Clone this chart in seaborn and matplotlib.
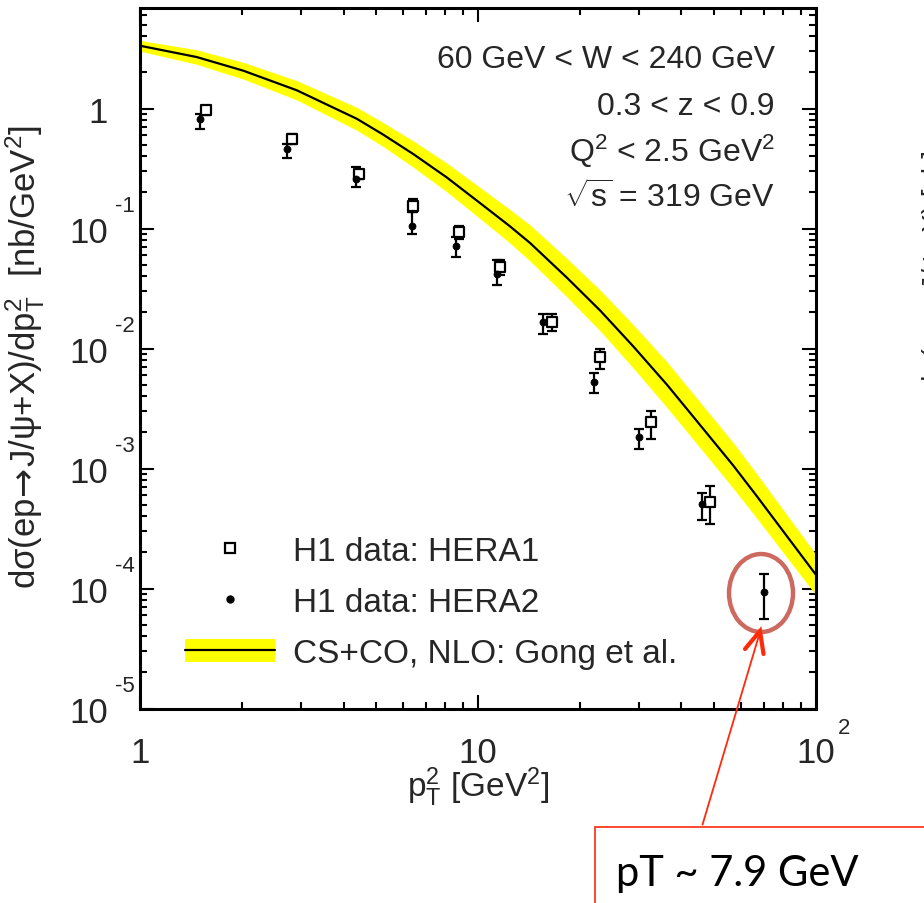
import matplotlib
matplotlib.use("Agg")
import matplotlib.pyplot as plt
import seaborn as sns
from matplotlib.patches import Ellipse, Rectangle, FancyArrowPatch, Patch
from matplotlib.lines import Line2D
from matplotlib.legend_handler import HandlerTuple
from matplotlib.ticker import FixedLocator, LogLocator, NullFormatter, FixedFormatter

# ---- NLO CS+CO prediction (central curve and uncertainty band) ----
theory_pt2 = [1.0, 1.47, 2.02, 2.91, 4.38, 5.25, 6.44, 8.08, 10.2, 12.4, 14.25,
              18.3, 23.0, 28.8, 36.2, 43.4, 56.9, 66.8, 100.0]
theory_xsec = [3.34, 2.69, 2.07, 1.42, 0.822, 0.605, 0.417, 0.267, 0.161, 0.105,
               0.0759, 0.0391, 0.0207, 0.01042, 0.00501, 0.00269, 0.00106, 5.89e-4, 1.3e-4]
theory_lo = [3.01, 2.34, 1.76, 1.18, 0.660, 0.481, 0.324, 0.2026, 0.1194, 0.0761,
             0.0537, 0.02706, 0.0140, 0.00688, 0.003234, 0.001737, 0.000684, 3.85e-4, 8.79e-5]
theory_hi = [3.70, 3.09, 2.43, 1.71, 1.023, 0.762, 0.537, 0.352, 0.2172, 0.1449,
             0.1072, 0.0565, 0.0306, 0.01578, 0.00776, 0.004167, 0.001642, 9.02e-4, 1.92e-4]

# ---- H1 data, HERA1 ----
hera1_pt2 = [1.565, 2.81, 4.45, 6.44, 8.81, 11.6, 16.5, 22.96, 32.4, 48.6]
hera1_xsec = [0.97, 0.557, 0.285, 0.155, 0.093, 0.0475, 0.0165, 0.00845, 0.00245, 5.29e-4]
hera1_lo = [0.89, 0.51, 0.26, 0.137, 0.082, 0.041, 0.0140, 0.0068, 0.00176, 3.45e-4]
hera1_hi = [1.06, 0.61, 0.31, 0.176, 0.106, 0.0546, 0.0194, 0.0099, 0.00303, 7.1e-4]

# ---- H1 data, HERA2 ----
hera2_pt2 = [1.505, 2.72, 4.36, 6.37, 8.61, 11.4, 15.6, 22.1, 30.0, 45.9, 70.2]
hera2_xsec = [0.818, 0.46, 0.259, 0.1055, 0.072, 0.0418, 0.0165, 0.00529, 0.00182, 5.06e-4, 9.3e-5]
hera2_lo = [0.675, 0.387, 0.222, 0.090, 0.058, 0.0338, 0.0132, 0.00426, 0.00145, 3.72e-4, 5.57e-5]
hera2_hi = [0.90, 0.506, 0.326, 0.137, 0.085, 0.0546, 0.0194, 0.00625, 0.00213, 6.3e-4, 1.32e-4]

# ---- axis ticks ----
x_major = [1, 10, 100]
x_major_labels = ["1", "10", "10"]
y_major = [1e-5, 1e-4, 1e-3, 1e-2, 1e-1, 1]
y_major_labels = ["10", "10", "10", "10", "10", "1"]
y_exponents = ["-5", "-4", "-3", "-2", "-1", None]

legend_labels = ["H1 data: HERA1", "H1 data: HERA2", "CS+CO, NLO: Gong et al."]
cut_lines = ["60 GeV < W < 240 GeV", "0.3 < z < 0.9",
             r"Q$^{2}$ < 2.5 GeV$^{2}$", r"$\sqrt{\mathregular{s}}$ = 319 GeV"]
callout_text = "pT ~ 7.9 GeV"

sns.set_style("ticks")
plt.rcParams["font.family"] = ["Liberation Sans", "DejaVu Sans"]
plt.rcParams["mathtext.fontset"] = "custom"
plt.rcParams["mathtext.rm"] = "Liberation Sans"
plt.rcParams["mathtext.it"] = "Liberation Sans:italic"
plt.rcParams["mathtext.sf"] = "DejaVu Sans"

FS_TICK = 25
FS_TEXT = 23
YELLOW = "#FFFF00"

fig = plt.figure(figsize=(9.24, 9.04), dpi=100)
ax = fig.add_axes([0.15152, 0.21515, 0.73160, 0.77456])
ax.set_xscale("log")
ax.set_yscale("log")

# theory band and central line
ax.fill_between(theory_pt2, theory_lo, theory_hi, color=YELLOW, lw=0, zorder=1)
sns.lineplot(x=theory_pt2, y=theory_xsec, color="black", lw=1.6, ax=ax,
             estimator=None, sort=False, zorder=2)

# data error bars
ax.errorbar(hera1_pt2, hera1_xsec,
            yerr=[[v - l for v, l in zip(hera1_xsec, hera1_lo)],
                  [h - v for v, h in zip(hera1_xsec, hera1_hi)]],
            fmt="none", ecolor="black", elinewidth=1.6, capsize=3.5, capthick=1.6, zorder=3)
ax.errorbar(hera2_pt2, hera2_xsec,
            yerr=[[v - l for v, l in zip(hera2_xsec, hera2_lo)],
                  [h - v for v, h in zip(hera2_xsec, hera2_hi)]],
            fmt="none", ecolor="black", elinewidth=1.6, capsize=3.5, capthick=1.6, zorder=3)

# data markers
sns.scatterplot(x=hera1_pt2, y=hera1_xsec, marker="s", s=42, color="white",
                edgecolor="black", linewidth=1.6, ax=ax, zorder=4)
sns.scatterplot(x=hera2_pt2, y=hera2_xsec, marker="o", s=26, color="black",
                edgecolor="black", linewidth=0.5, ax=ax, zorder=5)

ax.set_xlim(1, 100)
ax.set_ylim(1e-5, 6.85)

# axes frame and ticks
for sp in ax.spines.values():
    sp.set_linewidth(2.2)
    sp.set_color("black")
ax.xaxis.set_major_locator(FixedLocator(x_major))
ax.xaxis.set_major_formatter(FixedFormatter(x_major_labels))
ax.xaxis.set_minor_locator(LogLocator(base=10, subs=range(2, 10)))
ax.xaxis.set_minor_formatter(NullFormatter())
ax.yaxis.set_major_locator(FixedLocator(y_major))
ax.yaxis.set_major_formatter(FixedFormatter(y_major_labels))
ax.yaxis.set_minor_locator(LogLocator(base=10, subs=range(2, 10), numticks=20))
ax.yaxis.set_minor_formatter(NullFormatter())
ax.tick_params(which="both", direction="in", top=True, right=True,
               width=1.5, color="black", labelsize=FS_TICK)
ax.tick_params(which="major", length=10)
ax.tick_params(which="minor", length=5)
ax.tick_params(axis="x", which="major", pad=20)
ax.tick_params(axis="y", which="major", pad=23)

# exponents of the power-of-ten tick labels
for val, ex in zip(y_major, y_exponents):
    if ex is None:
        continue
    ax.annotate(ex, xy=(0, val), xycoords=("axes fraction", "data"),
                xytext=(-18, 16.5), textcoords="offset points",
                ha="left", va="center", fontsize=16, annotation_clip=False)
ax.annotate("2", xy=(100, 0), xycoords=("data", "axes fraction"),
            xytext=(16, -13.5), textcoords="offset points",
            ha="left", va="center", fontsize=16, annotation_clip=False)

# axis titles
ax.set_xlabel(r"$\mathregular{p_{T}^{2}}$ [GeV$^{2}$]", fontsize=24)
ax.xaxis.set_label_coords(0.5, -0.080)
ax.set_ylabel(r"dσ(ep$\!\mathsf{\rightarrow}\!$J/ψ+X)/d$\mathregular{p_{T}^{2}}$  [nb/GeV$^{2}$]",
              fontsize=25)
ax.yaxis.set_label_coords(-0.138, 0.503)

# kinematic cuts
for txt, yb in zip(cut_lines, [0.916, 0.849, 0.782, 0.716]):
    ax.text(0.939, yb, txt, transform=ax.transAxes, ha="right", va="baseline",
            fontsize=FS_TEXT)

# legend
h1 = Line2D([], [], marker="s", ls="none", mfc="white", mec="black", ms=7, mew=1.6)
h2 = Line2D([], [], marker="o", ls="none", mfc="black", mec="black", ms=5)
h3 = (Patch(facecolor=YELLOW, edgecolor="none"), Line2D([], [], color="black", lw=1.6))
ax.legend([h1, h2, h3], legend_labels, handler_map={tuple: HandlerTuple(ndivide=1, pad=0)},
          loc="upper left", bbox_to_anchor=(0.0666, 0.2464), borderaxespad=0,
          borderpad=0, frameon=False, fontsize=24, handlelength=2.7,
          handleheight=0.69, handletextpad=0.54, labelspacing=0.6)

# call-out marking the highest-pT point
ell = Ellipse((0.8236, 0.3429), 64 / 924, 78 / 904, transform=fig.transFigure,
              fill=False, edgecolor="#CD6A60", lw=3.2, zorder=10)
fig.add_artist(ell)
RED = "#FF2A0A"
shaft = FancyArrowPatch((701.7 / 924, 1 - 828.3 / 904), (760 / 924, 1 - 633 / 904),
                        transform=fig.transFigure, arrowstyle="-",
                        color=RED, lw=1.3, zorder=10)
fig.add_artist(shaft)
head = Line2D([745 / 924, 760 / 924, 763.5 / 924],
              [1 - 650 / 904, 1 - 632 / 904, 1 - 655 / 904],
              transform=fig.transFigure, color=RED, lw=3.0,
              solid_capstyle="round", solid_joinstyle="miter", zorder=10)
fig.add_artist(head)
box = Rectangle((595 / 924, -0.1), 0.5, 1 - 828.3 / 904 + 0.1, transform=fig.transFigure,
                fill=False, edgecolor=RED, lw=1.2, zorder=10)
fig.add_artist(box)
fig.text(616 / 924, 1 - 886.5 / 904, callout_text, family=["Lato", "DejaVu Sans"],
         fontsize=30, ha="left", va="baseline", color="black")

# edge of the neighbouring panel's axis title
fig.text(935 / 924, 1 - 270 / 904, "dσ(ep→J/ψ+X) [nb]",
         rotation=90, ha="center", va="center", fontsize=20)

fig.savefig("out.png", dpi=100)
